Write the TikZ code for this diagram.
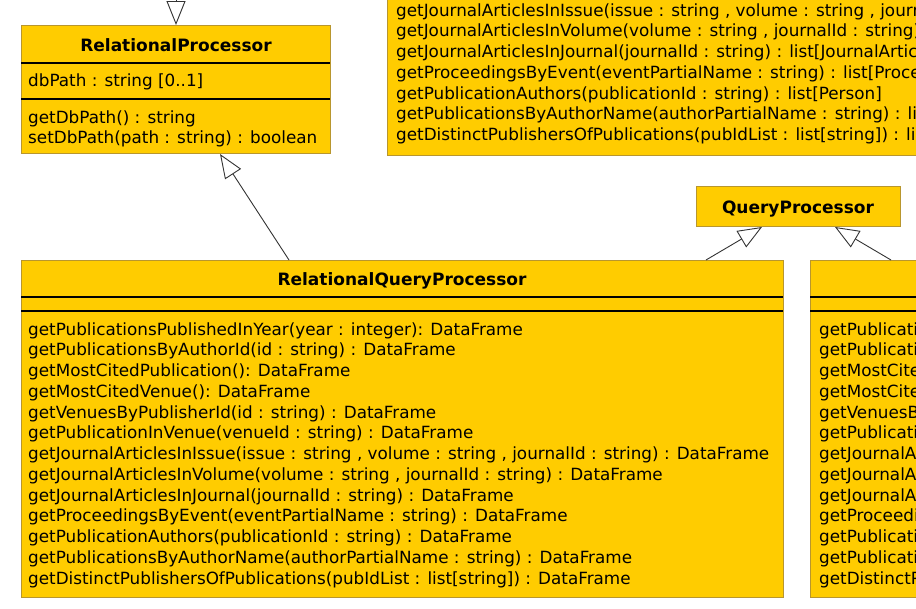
\documentclass[tikz,border=0pt]{standalone}
\usepackage{fontspec}
\setmainfont{DejaVu Sans}
\usetikzlibrary{arrows.meta}

\definecolor{umlfill}{HTML}{FFCC00}
\definecolor{umlline}{HTML}{B8962E}
\definecolor{umlarrow}{HTML}{333333}

% methods shared by the two query processors
\newcommand\qmethods{%
  {getPublicationsPublishedInYear(year : integer): DataFrame},
  {getPublicationsByAuthorId(id : string) : DataFrame},
  {getMostCitedPublication(): DataFrame},
  {getMostCitedVenue(): DataFrame},
  {getVenuesByPublisherId(id : string) : DataFrame},
  {getPublicationInVenue(venueId : string) : DataFrame},
  {getJournalArticlesInIssue(issue : string , volume : string , journalId : string) : DataFrame},
  {getJournalArticlesInVolume(volume : string , journalId : string) : DataFrame},
  {getJournalArticlesInJournal(journalId : string) : DataFrame},
  {getProceedingsByEvent(eventPartialName : string) : DataFrame},
  {getPublicationAuthors(publicationId : string) : DataFrame},
  {getPublicationsByAuthorName(authorPartialName : string) : DataFrame},
  {getDistinctPublishersOfPublications(pubIdList : list[string]) : DataFrame}}

\begin{document}
\begin{tikzpicture}[x=1pt,y=-1pt,
    cls/.style={draw=umlline, fill=umlfill, line width=1pt, inner sep=0pt, anchor=north west},
    sep/.style={black, line width=1.2pt},
    hdr/.style={font=\fontsize{17}{20}\selectfont\bfseries, inner sep=0pt, anchor=base},
    meth/.style={font=\fontsize{16.8}{20}\selectfont, inner sep=0pt, anchor=base west},
    gen/.style={umlarrow, line width=0.9pt, -{Triangle[open, length=24pt, width=19pt]}}]
        \useasboundingbox (0,0) rectangle (916,608);
        \clip (0,0) rectangle (916,608);

        % class boxes
        \node[cls, minimum width=309, minimum height=128] (rp) at (21,25) {};
        \node[cls, minimum width=620, minimum height=185] (topq) at (387,-30) {};
        \node[cls, minimum width=204, minimum height=40] (qp) at (696,186) {};
        \node[cls, minimum width=762, minimum height=337] (rqp) at (21,260) {};
        \node[cls, minimum width=300, minimum height=337] (tqp) at (810,260) {};

        \draw[sep] (21,63) -- (330,63);
        \draw[sep] (21,99) -- (330,99);
        \draw[sep] (21,297) -- (783,297);
        \draw[sep] (21,311) -- (783,311);
        \draw[sep] (810,297) -- (1110,297);
        \draw[sep] (810,311) -- (1110,311);

        % RelationalProcessor
        \node[hdr] (rpname) at (176,51) {RelationalProcessor};
        \node[meth] (rpattr) at (28,86) {dbPath : string [0..1]};
        \node[meth] (rpget) at (28,123) {getDbPath() : string};
        \node[meth] (rpset) at (28,143) {setDbPath(path : string) : boolean};

        % query handler at the top right
        \foreach \m [count=\i] in {%
            {getJournalArticlesInIssue(issue : string , volume : string , journalId : string) : list[JournalArticle]},
            {getJournalArticlesInVolume(volume : string , journalId : string) : list[JournalArticle]},
            {getJournalArticlesInJournal(journalId : string) : list[JournalArticle]},
            {getProceedingsByEvent(eventPartialName : string) : list[Proceedings]},
            {getPublicationAuthors(publicationId : string) : list[Person]},
            {getPublicationsByAuthorName(authorPartialName : string) : list[Publication]},
            {getDistinctPublishersOfPublications(pubIdList : list[string]) : list[Organization]}}
            \node[meth] (topq\i) at (396,{16+20.75*(\i-1)}) {\m};

        \node[hdr] (qpname) at (798,213) {QueryProcessor};

        % RelationalQueryProcessor and its sibling
        \node[hdr] (rqpname) at (402,285) {RelationalQueryProcessor};
        \foreach \m [count=\i] in \qmethods
            \node[meth] (rqp\i) at (28,{335+20.75*(\i-1)}) {\m};
        \foreach \m [count=\i] in \qmethods
            \node[meth] (tqp\i) at (819,{335+20.75*(\i-1)}) {\m};

        % generalisations
        \coordinate (rpsuper) at (176,-40);
        \draw[gen] (rpsuper) -- ([xshift=155]rp.north west);
        \draw[gen] ([xshift=268]rqp.north west) -- ([xshift=199]rp.south west);
        \draw[gen] ([xshift=-78]rqp.north east) -- ([xshift=66]qp.south west);
        \draw[gen] ([xshift=81]tqp.north west) -- ([xshift=139]qp.south west);
\end{tikzpicture}
\end{document}
